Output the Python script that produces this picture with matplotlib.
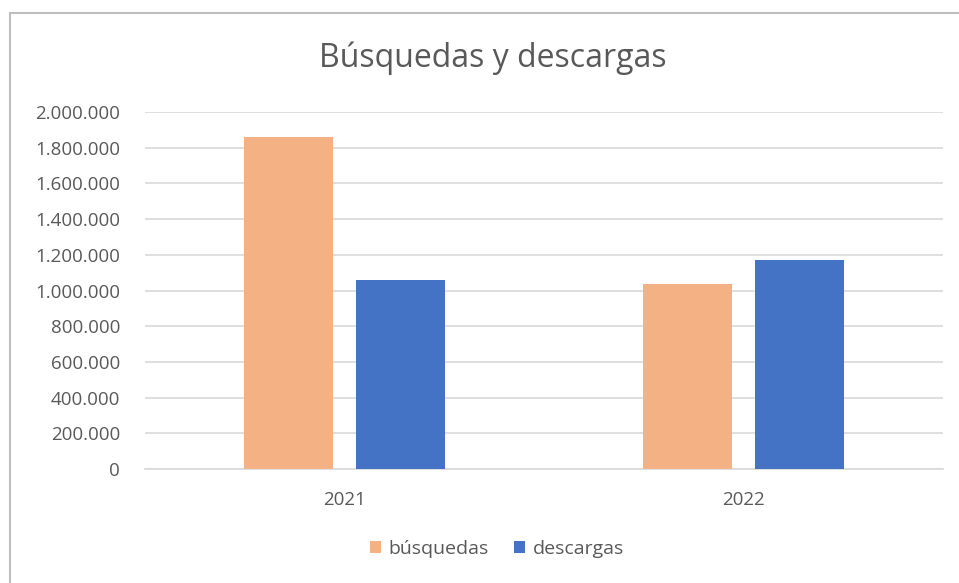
import numpy as np
import matplotlib.pyplot as plt
from matplotlib.patches import Rectangle
from matplotlib.ticker import FuncFormatter

years = ['2021', '2022']
busquedas = [1862000, 1039000]
descargas = [1060000, 1172000]

plt.rcParams['font.family'] = ['Open Sans', 'DejaVu Sans']
txt_color = '#595959'

fig = plt.figure(figsize=(9.59, 5.83), dpi=100)
# chart frame (open on right/bottom like the cropped screenshot)
fig.patches.append(Rectangle((10 / 959, -0.01), 1.02, 1 - 13 / 583 + 0.01,
                             transform=fig.transFigure, fill=False,
                             edgecolor='#BFBFBF', linewidth=1.5))

ax = fig.add_axes([145 / 959, 1 - 469 / 583, (943 - 145) / 959, (469 - 112) / 583])

x = np.arange(len(years))
w = 0.223
gap = 0.06
ax.bar(x - (w + gap) / 2, busquedas, w, color='#F4B183', label='búsquedas', zorder=3)
ax.bar(x + (w + gap) / 2, descargas, w, color='#4472C4', label='descargas', zorder=3)

ax.set_xlim(-0.5, 1.5)
ax.set_ylim(0, 2000000)
ax.set_yticks(np.arange(0, 2000001, 200000))
ax.yaxis.set_major_formatter(FuncFormatter(lambda v, p: f'{int(v):,}'.replace(',', '.')))
ax.set_xticks(x)
ax.set_xticklabels(years)
ax.grid(axis='y', color='#D9D9D9', linewidth=1.2, zorder=0)
for s in ['top', 'right', 'left']:
    ax.spines[s].set_visible(False)
ax.spines['bottom'].set_color('#D9D9D9')
ax.spines['bottom'].set_linewidth(1.2)
ax.tick_params(axis='both', length=0, colors=txt_color, labelsize=13.5)
ax.tick_params(axis='y', pad=18)
ax.tick_params(axis='x', pad=16)

fig.text(493 / 959, 1 - 58 / 583, 'Búsquedas y descargas', ha='center', va='center',
         fontsize=23, color=txt_color)

fig.legend(loc='center', bbox_to_anchor=(497 / 959, 1 - 549 / 583), ncol=2, frameon=False,
           fontsize=14, labelcolor=txt_color, handlelength=0.55, handleheight=0.6,
           handletextpad=0.4, columnspacing=1.3)

fig.savefig('out.png', dpi=100)
